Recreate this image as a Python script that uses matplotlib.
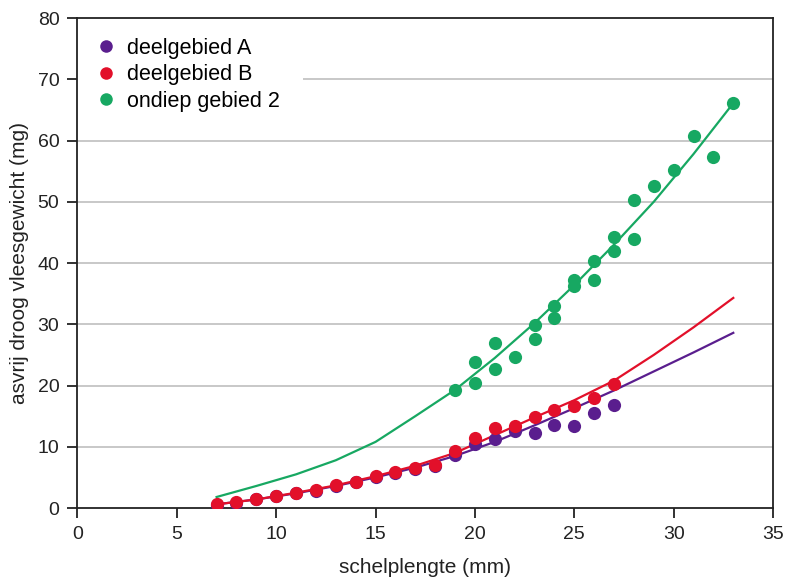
import numpy as np
import matplotlib.pyplot as plt

plt.rcParams['font.family'] = ['Liberation Sans', 'DejaVu Sans']

# meetpunten
a_x = [7, 8, 9, 10, 11, 12, 13, 14, 15, 16, 17, 18, 19, 20, 21, 22, 23, 24, 25, 26, 27]
a_y = [0.5, 0.9, 1.4, 1.9, 2.4, 2.8, 3.6, 4.2, 5.0, 5.7, 6.3, 6.9, 8.6, 10.5, 11.2, 12.5, 12.3, 13.5, 13.4, 15.5, 16.8]

b_x = [7, 8, 9, 10, 11, 12, 13, 14, 15, 16, 17, 18, 19, 20, 21, 22, 23, 24, 25, 26, 27]
b_y = [0.6, 1.0, 1.5, 2.0, 2.5, 2.9, 3.7, 4.3, 5.2, 5.9, 6.5, 7.0, 9.3, 11.4, 13.0, 13.4, 14.9, 16.0, 16.7, 17.9, 20.2]

c_x = [19, 20, 20, 21, 21, 22, 23, 23, 24, 24, 25, 25, 26, 26, 27, 27, 28, 28, 29, 30, 31, 32, 33]
c_y = [19.3, 23.8, 20.4, 27.0, 22.7, 24.7, 29.8, 27.6, 33.0, 31.0, 37.2, 36.2, 40.4, 37.3, 44.2, 42.0,
       50.3, 44.0, 52.5, 55.2, 60.7, 57.3, 66.2]

# trendlijnen
fit_x = [7, 9, 11, 13, 15, 17, 19, 21, 23, 25, 27, 29, 31, 33]
fit_a = [0.6, 1.4, 2.4, 3.6, 5.0, 6.6, 8.5, 10.8, 13.5, 16.3, 19.2, 22.3, 25.4, 28.6]
fit_b = [0.6, 1.4, 2.5, 3.7, 5.2, 6.9, 9.0, 11.9, 14.8, 17.6, 20.8, 25.0, 29.5, 34.3]
fit_c = [1.8, 3.6, 5.5, 7.8, 10.8, 15.0, 19.3, 24.5, 30.2, 36.4, 43.0, 50.0, 57.8, 66.1]

purple = '#5a1e8e'
red = '#e2102a'
green = '#17a862'
ink = '#222222'

fig = plt.figure(figsize=(7.86, 5.79), dpi=100)
ax = fig.add_axes([0.0986, 0.1226, 0.8849, 0.8463])

for v in range(10, 80, 10):
    xmin = 11.35 if v == 70 else 0
    ax.hlines(v, xmin, 35, color='#c4c4c4', lw=1.3, zorder=0)

ax.plot(fit_x, fit_a, color=purple, lw=1.6, zorder=2)
ax.plot(fit_x, fit_b, color=red, lw=1.6, zorder=2)
ax.plot(fit_x, fit_c, color=green, lw=1.6, zorder=2)

ax.plot(a_x, a_y, 'o', color=purple, ms=9.5, mec='none', label='deelgebied A', zorder=3)
ax.plot(b_x, b_y, 'o', color=red, ms=9.5, mec='none', label='deelgebied B', zorder=4)
ax.plot(c_x, c_y, 'o', color=green, ms=9.5, mec='none', label='ondiep gebied 2', zorder=3)

ax.set_xlim(0, 35)
ax.set_ylim(0, 80)
ax.set_xticks(range(0, 36, 5))
ax.set_yticks(range(0, 81, 10))
ax.tick_params(direction='out', length=7, width=1.3, labelsize=14, colors=ink, pad=6)
for s in ax.spines.values():
    s.set_linewidth(1.3)
    s.set_color(ink)

ax.set_xlabel('schelplengte (mm)', fontsize=15, color=ink, labelpad=11)
ax.set_ylabel('asvrij droog vleesgewicht (mg)', fontsize=15, color=ink, labelpad=6)

leg = ax.legend(loc='upper left', bbox_to_anchor=(0.019, 0.960), frameon=False, fontsize=15.5,
                handletextpad=0.3, markerscale=0.95, borderaxespad=0, borderpad=0,
                labelspacing=0.26, handlelength=1.4)

fig.savefig('out.png', dpi=100)
